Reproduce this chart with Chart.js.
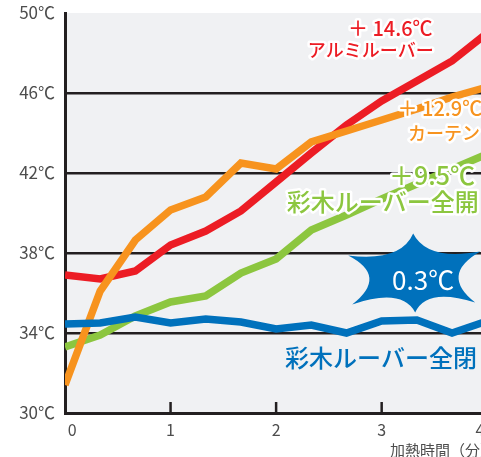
<html>
<head>
<meta charset="utf-8">
<style>
  body { margin: 0; background: #fff; }
  #wrap { width: 481px; height: 457px; overflow: hidden; }
</style>
</head>
<script src="https://cdn.jsdelivr.net/npm/chart.js"></script>
<body>
  <div id="wrap">
    <canvas id="myChart" width="545" height="457" style="width:545px;height:457px;"></canvas>
  </div>
</body>
<script>
  // 加熱時間（分）, 1/3分ごと
  const minutes = [0, 1/3, 2/3, 1, 4/3, 5/3, 2, 7/3, 8/3, 3, 10/3, 11/3, 4];
  const aluminium = [36.9, 36.7, 37.1, 38.4, 39.1, 40.1, 41.55, 43.0, 44.4, 45.6, 46.6, 47.6, 49.0];
  const curtain   = [31.4, 36.1, 38.65, 40.15, 40.8, 42.5, 42.2, 43.55, 44.1, 44.65, 45.2, 45.8, 46.3];
  const woodOpen  = [33.3, 33.9, 34.85, 35.55, 35.85, 37.0, 37.7, 39.15, 39.9, 40.7, 41.45, 42.2, 42.95];
  const woodClose = [34.45, 34.5, 34.8, 34.5, 34.7, 34.55, 34.2, 34.4, 34.0, 34.6, 34.65, 34.0, 34.6];
  const yTicks = [30, 34, 38, 42, 46, 50];
  const xTicks = [0, 1, 2, 3, 4];

  const FONT = '"Noto Sans CJK JP", "Noto Sans", sans-serif';
  const pts = arr => arr.map((v, i) => ({ x: minutes[i], y: v }));

  function line(label, arr, color, order) {
    return {
      label: label,
      data: pts(arr),
      borderColor: color,
      borderWidth: 7.5,
      borderJoinStyle: 'miter',
      pointRadius: 0,
      tension: 0,
      fill: false,
      order: order
    };
  }

  // 注記（データ座標で位置決め）
  const notes = [
    { text: '＋ 14.6℃', x: 2.68, y: 49.25, size: 20, color: '#ec1c24', halo: true },
    { text: 'アルミルーバー', x: 2.30, y: 48.15, size: 18, color: '#ec1c24', halo: true },
    { text: '＋ 12.9℃', x: 3.15, y: 45.25, size: 20, color: '#f7931e', halo: true },
    { text: 'カーテン', x: 3.25, y: 44.0, size: 18, color: '#f7931e', halo: true },
    { text: '＋9.5℃', x: 3.07, y: 41.9, size: 25, color: '#8cc63f', halo: true },
    { text: '彩木ルーバー全開', x: 2.10, y: 40.55, size: 24, color: '#8cc63f', halo: true },
    { text: '彩木ルーバー全閉', x: 2.085, y: 32.75, size: 24, color: '#0071bc', halo: false }
  ];

  const deco = {
    id: 'deco',
    beforeDraw(chart) {
      const a = chart.chartArea, ctx = chart.ctx;
      ctx.save();
      ctx.fillStyle = '#f0f1f3';
      ctx.fillRect(a.left, a.top, a.right - a.left, a.bottom - a.top);
      ctx.restore();
    },
    afterDraw(chart) {
      const ctx = chart.ctx, xs = chart.scales.x, ys = chart.scales.y;
      const a = chart.chartArea;
      ctx.save();
      // 目盛り（内向き）
      ctx.strokeStyle = '#231f20';
      ctx.lineWidth = 2.5;
      xTicks.slice(1).forEach(t => {
        const px = xs.getPixelForValue(t);
        ctx.beginPath();
        ctx.moveTo(px, a.bottom - 11);
        ctx.lineTo(px, a.bottom);
        ctx.stroke();
      });

      // 星形の吹き出し
      const cx = xs.getPixelForValue(3.308), cy = ys.getPixelForValue(36.975);
      const star = [[-1, -40], [66, -22], [61, 29], [1, 39], [-62, 31], [-66, -18]];
      ctx.fillStyle = '#0071bc';
      ctx.beginPath();
      ctx.moveTo(cx + star[0][0], cy + star[0][1]);
      for (let i = 0; i < star.length; i++) {
        const p = star[i], q = star[(i + 1) % star.length];
        const mx = (p[0] + q[0]) / 2 * 0.4, my = (p[1] + q[1]) / 2 * 0.4;
        ctx.quadraticCurveTo(cx + mx, cy + my, cx + q[0], cy + q[1]);
      }
      ctx.closePath();
      ctx.fill();
      ctx.fillStyle = '#fff';
      ctx.font = '26px ' + FONT;
      ctx.textAlign = 'center';
      ctx.textBaseline = 'middle';
      ctx.fillText('0.3℃', xs.getPixelForValue(3.393), ys.getPixelForValue(36.65));

      // ラベル
      ctx.textAlign = 'left';
      notes.forEach(n => {
        const px = xs.getPixelForValue(n.x), py = ys.getPixelForValue(n.y);
        ctx.font = '500 ' + n.size + 'px ' + FONT;
        if (n.halo) {
          ctx.strokeStyle = '#fff';
          ctx.lineWidth = 5;
          ctx.lineJoin = 'round';
          ctx.strokeText(n.text, px, py);
        }
        ctx.fillStyle = n.color;
        ctx.fillText(n.text, px, py);
      });

      // 軸タイトル
      ctx.font = '15px ' + FONT;
      ctx.fillStyle = '#4d4d4d';
      ctx.fillText('加熱時間（分）', xs.getPixelForValue(3.08), ys.getPixelForValue(28.15));
      ctx.restore();
    }
  };

  const config = {
    type: 'line',
    data: {
      datasets: [
        line('彩木ルーバー全閉', woodClose, '#0071bc', 1),
        line('カーテン', curtain, '#f7931e', 2),
        line('アルミルーバー', aluminium, '#ec1c24', 3),
        line('彩木ルーバー全開', woodOpen, '#8cc63f', 4)
      ]
    },
    options: {
      responsive: false,
      animation: false,
      layout: { padding: { top: 13, right: 5, left: 0, bottom: 0 } },
      plugins: { legend: { display: false }, tooltip: { enabled: false } },
      scales: {
        x: {
          type: 'linear',
          min: 0,
          max: 4.5,
          afterFit: s => { s.height = 44; s.paddingLeft = 0; s.paddingRight = 0; },
          afterBuildTicks: s => { s.ticks = xTicks.map(v => ({ value: v })); },
          ticks: {
            callback: v => v === 0 ? '    0' : v === 4 ? '4    ' : String(v),
            font: { family: FONT, size: 16 },
            color: '#4d4d4d',
            padding: 7,
            maxRotation: 0,
            autoSkip: false
          },
          grid: { drawOnChartArea: false, drawTicks: false },
          border: { display: true, color: '#231f20', width: 3 }
        },
        y: {
          min: 30,
          max: 50,
          afterFit: s => { s.width = 65; s.paddingTop = 0; s.paddingBottom = 0; },
          afterBuildTicks: s => { s.ticks = yTicks.map(v => ({ value: v })); },
          ticks: {
            callback: v => v + '℃',
            font: { family: FONT, size: 17 },
            color: '#4d4d4d',
            padding: 10
          },
          grid: {
            color: c => (c.tick && (c.tick.value === 50 || c.tick.value === 30)) ? 'rgba(0,0,0,0)' : '#231f20',
            lineWidth: 2.5,
            drawTicks: false
          },
          border: { display: true, color: '#231f20', width: 3 }
        }
      }
    },
    plugins: [deco]
  };

  const myChart = new Chart(document.getElementById('myChart'), config);
</script>
</html>
